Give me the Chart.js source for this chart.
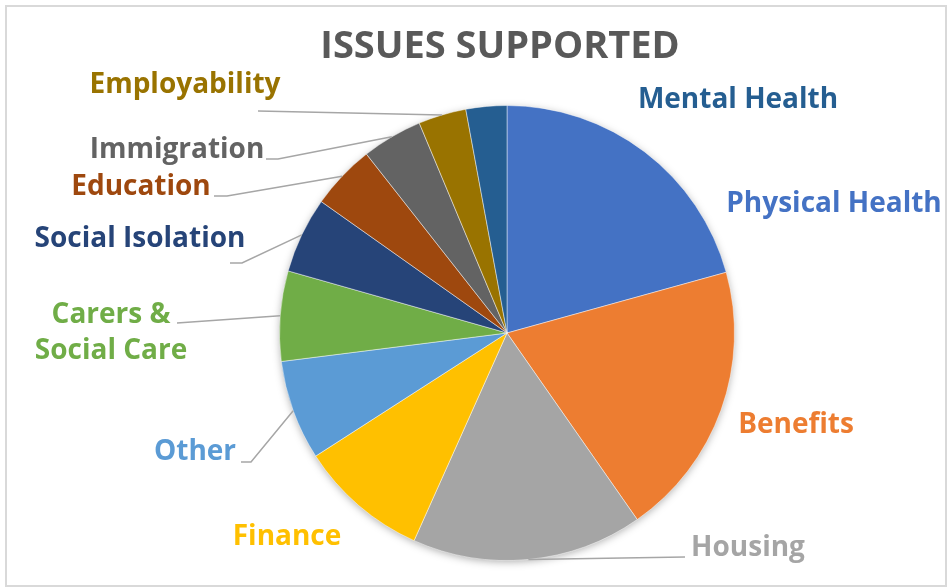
<!DOCTYPE html>
<html>
<head>
<meta charset="utf-8">
<title>Issues Supported</title>
<script src="https://cdn.jsdelivr.net/npm/chart.js@4.4.1/dist/chart.umd.min.js"></script>
<style>
  html, body { margin: 0; padding: 0; background: #fff; }
  #wrap { width: 952px; height: 587px; position: relative; }
</style>
</head>
<body>
<div id="wrap"><canvas id="issuesChart" width="952" height="587"></canvas></div>
<script>
const chartTitle = 'ISSUES SUPPORTED';

const issues = [
    'Physical Health', 'Benefits', 'Housing', 'Finance', 'Other',
    'Carers & Social Care', 'Social Isolation', 'Education', 'Immigration',
    'Employability', 'Mental Health'
];

// share of cases (%)
const share = [20.7, 19.6, 16.4, 9.2, 7.1, 6.4, 5.4, 4.6, 4.3, 3.4, 2.9];

const sliceColors = [
    '#4472C4', '#ED7D31', '#A5A5A5', '#FFC000', '#5B9BD5',
    '#70AD47', '#264478', '#9E480E', '#636363', '#997300', '#255E91'
];

// where each label sits (centre x, baseline y) and the bend of its leader line
const labelLayout = [
    { x: 834, y: 212 },
    { x: 796, y: 433 },
    { x: 748, y: 556, line: [[685, 557]] },
    { x: 287, y: 545 },
    { x: 195, y: 460, line: [[251, 462], [241, 462]] },
    { x: 111, y: 323, lines: ['Carers &', 'Social Care'], gap: 36, line: [[177, 323]] },
    { x: 140, y: 247, line: [[242, 263], [230, 263]] },
    { x: 141, y: 195, line: [[227, 196], [214, 196]] },
    { x: 177, y: 158, line: [[278, 159], [266, 159]] },
    { x: 185, y: 93, line: [[258, 111]] },
    { x: 738, y: 108 }
];

const FONT = '"Open Sans", "DejaVu Sans", sans-serif';

const frameAndLabels = {
    id: 'frameAndLabels',
    beforeDraw(chart) {
        const ctx = chart.ctx;
        ctx.save();
        ctx.strokeStyle = '#D9D9D9';
        ctx.lineWidth = 2;
        ctx.strokeRect(6, 6, 940, 580);
        ctx.restore();
    },
    beforeDatasetsDraw(chart) {
        // soft shadow under the pie
        const arc = chart.getDatasetMeta(0).data[0];
        if (!arc) return;
        const ctx = chart.ctx;
        ctx.save();
        ctx.beginPath();
        ctx.arc(arc.x, arc.y, arc.outerRadius - 1, 0, Math.PI * 2);
        ctx.fillStyle = '#ffffff';
        ctx.shadowColor = 'rgba(0,0,0,0.35)';
        ctx.shadowBlur = 9;
        ctx.shadowOffsetY = 2;
        ctx.fill();
        ctx.restore();
    },
    afterDatasetsDraw(chart) {
        const ctx = chart.ctx;
        const meta = chart.getDatasetMeta(0);
        ctx.save();

        ctx.font = 'bold 38px ' + FONT;
        ctx.fillStyle = '#595959';
        ctx.textAlign = 'center';
        ctx.textBaseline = 'alphabetic';
        ctx.fillText(chartTitle, 500, 58);

        meta.data.forEach((arc, i) => {
            const lay = labelLayout[i];
            if (lay.line) {
                const mid = (arc.startAngle + arc.endAngle) / 2;
                ctx.beginPath();
                ctx.moveTo(arc.x + Math.cos(mid) * arc.outerRadius, arc.y + Math.sin(mid) * arc.outerRadius);
                lay.line.forEach(p => ctx.lineTo(p[0], p[1]));
                ctx.strokeStyle = '#A6A6A6';
                ctx.lineWidth = 1.5;
                ctx.stroke();
            }
            ctx.font = 'bold 28px ' + FONT;
            ctx.fillStyle = sliceColors[i];
            const rows = lay.lines || [issues[i]];
            rows.forEach((t, k) => ctx.fillText(t, lay.x, lay.y + k * (lay.gap || 0)));
        });
        ctx.restore();
    }
};

const config = {
    type: 'pie',
    data: {
        labels: issues,
        datasets: [{
            data: share,
            backgroundColor: sliceColors,
            borderColor: 'rgba(255,255,255,0.45)',
            borderWidth: 1
        }]
    },
    options: {
        responsive: false,
        animation: false,
        rotation: 0,
        layout: { padding: { top: 105, bottom: 26, left: 279, right: 217 } },
        plugins: {
            legend: { display: false },
            title: { display: false },
            tooltip: { enabled: false }
        }
    },
    plugins: [frameAndLabels]
};

new Chart(document.getElementById('issuesChart').getContext('2d'), config);
</script>
</body>
</html>
